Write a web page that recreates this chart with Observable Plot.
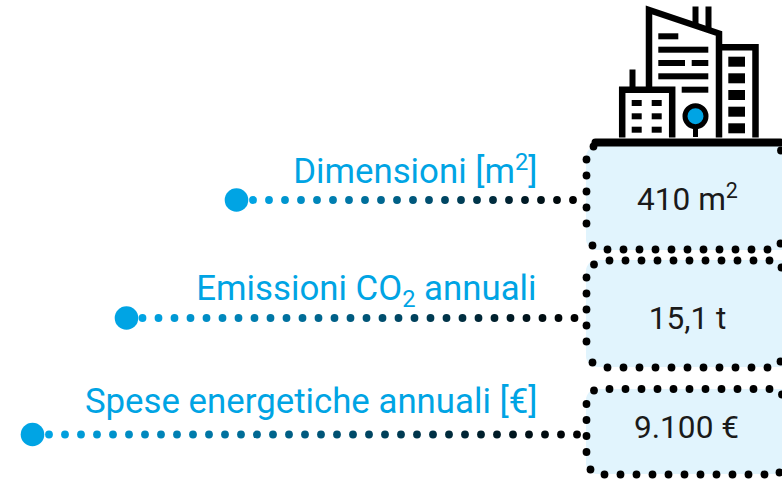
<!DOCTYPE html>
<html><head><meta charset="utf-8">
<style>html,body{margin:0;padding:0;background:#fff}svg{display:block}</style>
<script src="https://cdn.jsdelivr.net/npm/d3@7"></script>
<script src="https://cdn.jsdelivr.net/npm/@observablehq/plot@0.6"></script>
</head><body><script>
const labels = ["Dimensioni [m²]", "Emissioni CO₂ annuali", "Spese energetiche annuali [€]"];
const labelX = [537, 536, 537];
const labelY = [171, 288, 401];
const values = ["410 m²", "15,1 t", "9.100 €"];
const valueX = [687, 687, 686];
const valueY = [199, 318, 427];

const markerX = [236, 126, 32];
const markerY = [199.5, 317.5, 434];
const leaderX = [
  [252.5,268.5,284.5,300.5,316.5,332.5,348.5,364.5,380.5,396.5,412.5,428.5,444.5,460.5,476.5,492.5,508.5,524.5,540.5,556.5,572.5],
  [142,158,174,190,206,222,238,254,270,286,302,318,334,350,366,382,398,414,430,446,462,478,494,510,526,542,558,574],
  [48.5,64.5,80.5,96.5,112.5,128.5,144.5,160.5,176.5,192.5,208.5,224.5,240.5,256.5,272.5,288.5,304.5,320.5,336.5,352.5,368.5,384.5,400.5,416.5,432.5,448.5,464.5,480.5,496.5,512.5,528.5,544.5,560.5,576.5]
];

const boxTop = [146, 260, 389];
const boxBottom = [250, 367, 474];

const borderX = [
  593,586,586,586,586,586,592,607,623,639,655,671,687,703,719,735,751,767,780.5,781,780,
  609,625,641,657,673,689,705,721,737,753,769,593.5,586,586,586,586,586,592,607,623,639,655,671,687,703,719,735,751,767,780,781.5,
  609,625,641,657,673,689,705,721,737,753,769,593.5,586,586,586,586,590,604,620,636,652,668,684,700,716,732,748,764,779
];
const borderY = [
  146,159,175,191,207,223,245,249,249,249,249,249,249,249,249,249,249,249,150,267,243,
  260,260,260,260,260,260,260,260,260,260,260,264,277,293,309,325,341,362,367,367,367,367,367,367,367,367,367,367,367,361,394,
  388.5,388.5,388.5,388.5,388.5,388.5,388.5,388.5,388.5,388.5,388.5,390,403.5,419.5,435.5,451.5,469,474,474,474,474,474,474,474,474,474,474,474,472
];

// Skyline pictogram, outlines as point lists
const tallX = [648.5,648.5,718.5,718.5], tallY = [89,9.5,33,137];
const rightX = [720,755,755], rightY = [46.7,46.7,137];
const lowX = [621.7,621.7,671.7,671.7], lowY = [137,89.3,89.3,137];
const ventX = [695,708,632], ventTop = [6.5,6.5,69.5], ventBottom = [26,29,89];
const blocks = [
  [658.3,678.3,33.3,39.3],[658.3,708.3,46.7,52.7],[658.3,685,60,66],[691.7,708.3,60,66],[658.3,708.3,73.3,79.3],[681.7,708.3,86.7,92.7],
  [728.3,745,56.7,66.7],[728.3,745,73.3,83.3],[728.3,745,90,100],[728.3,745,106.7,116.7],[728.3,745,123.3,133.3],
  [631.7,641.7,100,106],[651.7,661.7,100,106],[631.7,641.7,113.3,119.3],[651.7,661.7,113.3,119.3],[631.7,641.7,126.7,132.7],[651.7,661.7,126.7,132.7]
];
const treeX = 695, treeY = 115.7;

const polyline = (xs, ys, width) => Plot.line(xs.map((x, i) => [x, ys[i]]), {stroke: "#000", strokeWidth: width, strokeLinejoin: "miter", strokeMiterlimit: 10, strokeLinecap: "butt", curve: "linear"});
const leaders = leaderX.flatMap((xs, r) => xs.map((x, i) => ({x, y: markerY[r], t: i / (xs.length - 1)})));

const chart = Plot.plot({
  width: 782, height: 479, margin: 0,
  x: {domain: [0, 782], range: [0, 782], axis: null},
  y: {domain: [479, 0], range: [479, 0], axis: null},
  color: {type: "linear", domain: [0, 0.5, 1], range: ["#00a4e4", "#00587c", "#000000"]},
  style: {fontFamily: "Roboto", background: "#fff"},
  marks: [
    Plot.rect(boxTop, {x1: 586, x2: 810, y1: d => d, y2: (d, i) => boxBottom[i], fill: "#e1f4fd", rx: 11}),
    polyline(tallX, tallY, 6.5),
    polyline(rightX, rightY, 6.5),
    polyline(lowX, lowY, 6.5),
    Plot.ruleX(ventX, {x: d => d, y1: (d, i) => ventTop[i], y2: (d, i) => ventBottom[i], stroke: "#000", strokeWidth: 6}),
    Plot.rect(blocks, {x1: d => d[0], x2: d => d[1], y1: d => d[2], y2: d => d[3], fill: "#000"}),
    Plot.ruleX([treeX], {y1: 125, y2: 137, stroke: "#000", strokeWidth: 5}),
    Plot.dot([treeX], {x: d => d, y: treeY, r: 10.5, fill: "#00a4e4", stroke: "#000", strokeWidth: 5}),
    Plot.line([[595, 142], [780, 142]], {stroke: "#000", strokeWidth: 8, strokeLinecap: "round"}),
    Plot.dot(borderX, {x: d => d, y: (d, i) => borderY[i], r: 3.9, fill: "#000"}),
    Plot.dot(leaders, {x: "x", y: "y", r: 3.9, fill: "t"}),
    Plot.dot(markerX, {x: d => d, y: (d, i) => markerY[i], r: 11.8, fill: "#00a4e4"}),
    Plot.text(labels, {x: (d, i) => labelX[i], y: (d, i) => labelY[i], text: d => d, textAnchor: "end", fontSize: 34.8, fill: "#00a4e4"}),
    Plot.text(values, {x: (d, i) => valueX[i], y: (d, i) => valueY[i], text: d => d, fontSize: 31.6, fill: "#1a1a1a"})
  ]
});
document.body.append(chart);

// Real superscript / subscript runs inside the same text element
const scripts = {"²": ["2", -0.36], "₂": ["2", 0.2]};
d3.select(chart).selectAll("text").each(function () {
  const raw = this.textContent;
  if (!/[²₂]/.test(raw)) return;
  const text = d3.select(this).text(null);
  let shift = 0;
  for (const part of raw.split(/([²₂])/)) {
    if (!part) continue;
    const s = scripts[part];
    const span = text.append("tspan").text(s ? s[0] : part);
    if (s) {
      span.attr("font-size", "0.68em").attr("dy", `${s[1] / 0.68}em`);
      shift = -s[1];
    } else if (shift) {
      span.attr("dy", `${shift}em`);
      shift = 0;
    }
  }
});
</script></body></html>
